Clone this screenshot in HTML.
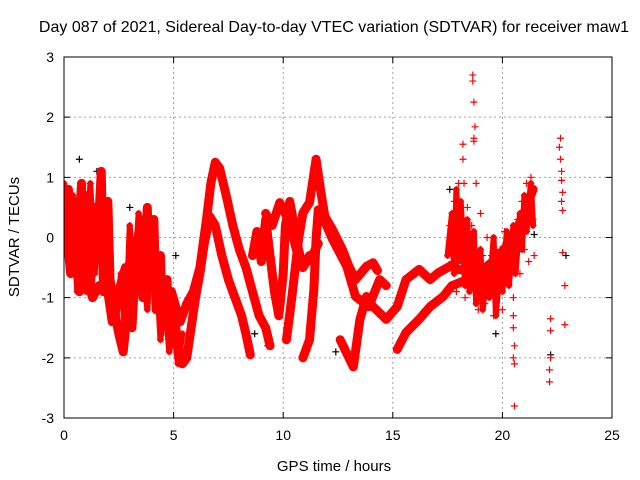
<!DOCTYPE html>
<html><head><meta charset="utf-8">
<style>
body{margin:0;background:#fff;}
svg{display:block;font-family:"Liberation Sans",sans-serif;}
</style></head>
<body>
<svg id="chart" width="640" height="480">
<text x="334" y="32" font-size="16" text-anchor="middle">Day 087 of 2021, Sidereal Day-to-day VTEC variation (SDTVAR) for receiver maw1</text>
<text x="334" y="471" font-size="15" text-anchor="middle">GPS time / hours</text>
<text transform="translate(19,237) rotate(-90)" font-size="15" text-anchor="middle">SDTVAR / TECUs</text>
<g id="grid"></g><g id="ticks"></g>
<defs><clipPath id="pc"><rect x="64" y="57" width="548" height="361"/></clipPath></defs>
<g id="marks" clip-path="url(#pc)"></g>
<rect x="64" y="57" width="548" height="361" fill="none" stroke="#000" stroke-width="1"/>
</svg>
<script>
const xTicks=[0,5,10,15,20,25];
const yTicks=[-3,-2,-1,0,1,2,3];
// traces: [hour, value]
const track1=[[0,0.5],[0.2,0.8],[0.3,-0.2],[0.5,0.6],[0.6,-0.4],[0.8,0.9],[0.9,-0.5],[1.1,0.7],[1.2,-0.8],[1.4,0.5],[1.5,-0.3],[1.7,1.1],[1.8,-0.9],[2.0,0.6],[2.1,-0.7],[2.3,-1.2],[2.5,-1.6],[2.7,-1.9],[2.9,-1.2],[3.0,-0.4],[3.1,-1.5],[3.3,-0.2],[3.5,0.3],[3.6,-1.0],[3.8,0.5],[3.9,-0.8],[4.1,0.3],[4.2,-1.2],[4.4,-0.3],[4.5,-1.4],[4.7,-0.7],[4.8,-1.6],[5.0,-1.2],[5.2,-1.8],[5.4,-2.1],[5.6,-2.0],[5.8,-1.5],[6.0,-1.0],[6.2,-0.6],[6.4,-0.1],[6.65,0.35],[6.9,0.2],[7.2,-0.3],[7.5,-0.7],[7.8,-1.0],[8.1,-1.3],[8.3,-1.6],[8.5,-1.95]];
const track2=[[0.1,0.2],[0.3,-0.6],[0.5,-0.2],[0.7,-0.9],[1.0,-0.6],[1.3,-1.0],[1.6,-0.8],[2.0,-0.9],[2.2,-1.4],[2.5,-0.9],[2.8,-0.5],[3.1,-0.8],[3.4,0.0],[3.7,-0.4],[4.0,-0.1],[4.3,-0.6],[4.6,-0.9],[4.9,-0.9],[5.3,-1.4],[5.6,-1.1],[5.9,-0.9],[6.2,-0.5],[6.5,0.3],[6.7,0.9],[6.9,1.25],[7.1,1.15],[7.4,0.7],[7.7,0.2],[8.0,-0.2],[8.3,-0.5],[8.6,-0.9],[8.9,-1.3],[9.2,-1.5],[9.4,-1.8]];
const track3=[[8.6,-0.3],[8.8,0.1],[9.0,-0.4],[9.2,0.3],[9.4,-0.3],[9.6,-0.9],[9.8,-1.3],[10.0,-0.6],[10.1,0.2],[10.3,0.6],[10.5,0.2],[10.7,-0.2],[10.9,-0.5],[11.2,-0.3]];
const track4=[[9.2,0.4],[9.5,0.2],[9.84,0.58],[10.3,0.25],[10.6,-0.2],[10.9,-0.48],[11.3,-0.32],[11.6,-0.1]];
const track5=[[10.15,-1.7],[10.4,-0.98],[10.7,-0.03],[10.9,0.41],[11.2,0.58],[11.5,1.3],[11.7,0.8],[11.9,0.35],[12.25,0.13],[12.7,-0.2],[13.0,-0.48],[13.3,-0.7],[13.8,-0.48],[14.1,-0.42],[14.3,-0.55]];
const track6=[[10.9,-2.0],[11.2,-1.7],[11.4,-0.86],[11.5,-0.03],[11.6,0.46],[11.8,0.35],[12.25,-0.03],[12.9,-0.48],[13.3,-0.98],[13.9,-1.15],[14.4,-0.7],[14.7,-0.8]];
const track7=[[12.6,-1.7],[13.2,-2.15],[13.5,-1.36],[13.8,-0.98],[14.1,-1.15],[14.7,-1.36],[15.2,-1.15],[15.6,-0.7],[16.2,-0.53],[16.7,-0.7],[17.1,-0.58],[17.6,-0.48],[18.0,-0.53],[18.95,-0.58],[19.7,-0.36],[20.45,-0.03],[21.1,0.5],[21.4,0.8]];
const track8=[[15.2,-1.86],[15.6,-1.58],[16.2,-1.36],[16.7,-1.15],[17.3,-0.98],[17.7,-0.8],[18.4,-0.7],[18.9,-0.5]];
const track9=[[17.5,-0.3],[17.7,0.4],[17.8,-0.6],[17.9,0.8],[18.0,-0.4],[18.1,0.6],[18.3,-0.8],[18.4,0.3],[18.5,-0.9],[18.7,0.1],[18.8,-1.1],[19.0,-0.2],[19.1,-1.2],[19.3,-0.5],[19.4,-1.0],[19.6,0.0],[19.7,-1.3],[19.9,-0.4],[20.0,-0.9],[20.2,0.1],[20.3,-0.8],[20.5,0.2],[20.6,-0.6],[20.8,0.4],[20.9,-0.2],[21.0,0.7],[21.1,0.1],[21.3,0.9],[21.4,0.2]];
const track10=[[0,0.9],[0.2,-0.1],[0.4,0.7],[0.6,-0.9],[0.8,0.3],[1.0,-0.9],[1.2,0.9],[1.4,-0.6],[1.6,0.4],[1.8,0.5],[2.0,-0.3],[2.2,-0.8],[2.4,-1.3],[2.6,-0.6],[2.8,-1.7],[3.0,0.2],[3.2,-1.0],[3.4,0.4],[3.6,-0.5],[3.8,-1.2],[4.0,0.1],[4.2,-0.4],[4.4,-1.7],[4.6,-1.0],[4.8,-1.9],[5.0,-1.5],[5.2,-2.1],[5.4,-1.6]];
const scatterPts=[[17.6,0.2],[17.7,-0.4],[17.8,0.6],[17.9,-0.9],[18.0,0.9],[18.1,-0.2],[18.2,1.55],[18.2,1.3],[18.25,0.9],[18.3,-1.0],[18.4,0.5],[18.5,-0.7],[18.6,0.2],[18.65,2.7],[18.65,2.6],[18.7,2.25],[18.7,1.65],[18.7,1.6],[18.75,1.84],[18.8,0.9],[18.9,-1.2],[19.0,0.4],[19.1,-0.3],[19.2,-1.1],[19.3,0.0],[19.4,-0.9],[19.5,-0.3],[19.6,-1.3],[19.7,-0.6],[19.8,-1.2],[19.9,-0.2],[20.0,-1.2],[20.1,0.1],[20.2,-0.7],[20.3,0.0],[20.4,-0.5],[20.5,-1.0],[20.5,-1.3],[20.5,-1.5],[20.55,-1.8],[20.5,-2.0],[20.55,-2.1],[20.55,-2.8],[20.7,0.3],[20.8,-0.6],[20.9,0.6],[21.0,-0.2],[21.1,0.9],[21.2,-0.4],[21.3,1.0],[21.4,0.3],[21.45,-0.3],[22.2,-1.35],[22.2,-1.55],[22.2,-2.0],[22.15,-2.2],[22.15,-2.4],[22.65,1.65],[22.6,1.5],[22.65,1.3],[22.7,1.1],[22.7,0.95],[22.75,0.75],[22.7,0.6],[22.75,0.45],[22.75,-0.25],[22.85,-0.8],[22.85,-1.45]];
const blackPts=[[0.7,1.3],[1.5,1.1],[3.0,0.5],[5.1,-0.3],[8.7,-1.6],[9.3,-1.8],[12.4,-1.9],[17.6,0.8],[19.7,-1.6],[21.45,0.05],[22.9,-0.3],[22.2,-1.95]];
const tracks=[track1,track2,track3,track4,track5,track6,track7,track8,track9,track10];

const X0=64,X1=612,Y0=418,Y1=57;
const sx=t=>X0+(t/25)*(X1-X0);
const sy=v=>Y0-((v+3)/6)*(Y0-Y1);
const NS='http://www.w3.org/2000/svg';
const grid=document.getElementById('grid'),ticks=document.getElementById('ticks'),marks=document.getElementById('marks');
function mk(tag,attrs,parent){const e=document.createElementNS(NS,tag);for(const k in attrs)e.setAttribute(k,attrs[k]);parent.appendChild(e);return e;}
xTicks.forEach(t=>{const x=sx(t);
 if(t>0&&t<25){const g=mk('line',{x1:x,x2:x,y1:Y1,y2:Y0,stroke:'#a0a0a0','stroke-dasharray':'2,3'},grid);}
 const tk=mk('path',{d:`M${x},${Y0}v-6M${x},${Y1}v6`,stroke:'#000'},ticks);
 const l=mk('text',{x:x,y:Y0+22,'font-size':14,'text-anchor':'middle'},ticks);l.textContent=t;
 
 });
yTicks.forEach(v=>{const y=sy(v);
 if(v>-3&&v<3){const g=mk('line',{x1:X0,x2:X1,y1:y,y2:y,stroke:'#a0a0a0','stroke-dasharray':'2,3'},grid);}
 const tk=mk('path',{d:`M${X0},${y}h6M${X1},${y}h-6`,stroke:'#000'},ticks);
 const l=mk('text',{x:X0-10,y:y+5,'font-size':14,'text-anchor':'end'},ticks);l.textContent=v;
 
 });
function plus(t,v,col){const x=sx(t),y=sy(v);const p=mk('path',{d:`M${x-3.5},${y}h7M${x},${y-3.5}v7`,stroke:col,'stroke-width':1.2},marks);
 
 }
blackPts.forEach(p=>plus(p[0],p[1],'#000'));
tracks.forEach((tr,i)=>{
 const pl=mk('polyline',{points:tr.map(p=>sx(p[0])+','+sy(p[1])).join(' '),fill:'none',stroke:'#ff0000','stroke-width':(i>=8?6:9),'stroke-linejoin':'round','stroke-linecap':'round'},marks);
 
 
 tr.forEach(p=>plus(p[0],p[1],'#ff0000'));});
scatterPts.forEach(p=>plus(p[0],p[1],'#ff0000'));
</script>
</body></html>
